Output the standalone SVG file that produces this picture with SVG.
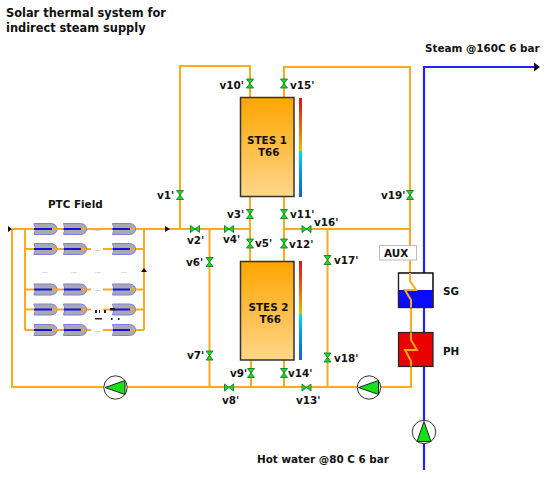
<svg xmlns="http://www.w3.org/2000/svg" xmlns:xlink="http://www.w3.org/1999/xlink" width="550" height="478" viewBox="0 0 550 478">
<style>
text{font-family:"DejaVu Sans",Verdana,sans-serif;font-weight:bold;font-size:10.4px;fill:#111}
.t{font-size:11.4px}
.o{fill:none;stroke:#ffa91f;stroke-width:2}
.b{fill:none;stroke:#2222ff;stroke-width:2.2}
.tank{stroke:#333;stroke-width:1.5}
.hx{stroke:#222;stroke-width:1.2}
.d{font-size:6px;font-weight:normal;fill:#777}
</style>
<defs>
<linearGradient id="tg" x1="0" y1="0" x2="0" y2="1"><stop offset="0" stop-color="#ffa500"/><stop offset="1" stop-color="#ffd68a"/></linearGradient>
<linearGradient id="bar" x1="0" y1="0" x2="0" y2="1"><stop offset="0" stop-color="#e01010"/><stop offset="0.3" stop-color="#e07010"/><stop offset="0.53" stop-color="#e0c000"/><stop offset="0.54" stop-color="#00e0e0"/><stop offset="0.72" stop-color="#00a0e0"/><stop offset="1" stop-color="#1060e0"/></linearGradient>
<g id="vv"><path d="M-3.500,-4.500H3.500L-3.500,4.500H3.500Z" fill="#16e016" stroke="#127a3a" stroke-width="0.9"/></g>
<g id="vh"><path d="M-4.500,-3.500V3.500L4.500,-3.500V3.500Z" fill="#16e016" stroke="#127a3a" stroke-width="0.9"/></g>
<g id="col"><path d="M34,-5.500H51Q57,-5 57,0Q57,5 51,5.500H34Q37,0 34,-5.500Z" fill="#aaaaaa" stroke="#7c7ce8" stroke-width="1"/><path d="M34,0H52" stroke="#1414e0" stroke-width="2"/></g>
<g id="rowc"><use xlink:href="#col"/><use xlink:href="#col" x="29.500"/><use xlink:href="#col" x="78.500"/></g>
<g id="pump"><circle r="11.700" fill="#fff" stroke="#333" stroke-width="1"/></g>
</defs>
<rect width="550" height="478" fill="#fff"/>
<g id="connectors">
<path class="b" d="M424,470V67H538"/>
<path d="M534,62.500L540,67L534,71.500Z" fill="#111"/>
<path class="o" d="M25,229H250M12,229V387H411V361L405,350H417L411,340V300L405,290H416L410,281V67H284V97M250,97V66H180V229M250,197V261M284,197V261M284,229H410M209.500,229V387M327.500,229V387M251,360V387M284,360V387"/>
<path class="o" d="M12,229H34M57,229H63M86,229H91M103,229H112M135,229H144M25,229V330M144,229V330M25,249H34M57,249H63M86,249H91M103,249H112M135,249H144M25,289.500H34M57,289.500H63M86,289.500H91M103,289.500H112M135,289.500H144M25,309.500H34M57,309.500H63M86,309.500H91M103,309.500H112M135,309.500H144M25,330H34M57,330H63M86,330H91M103,330H112M135,330H144M144,229H180"/>
<path d="M8,226V232L12,229Z M165,226V232L170,229Z M141,272H147L144,268Z" fill="#111"/>
</g>
<g id="ptc-field">
<use xlink:href="#rowc" y="229"/><use xlink:href="#rowc" y="249"/><use xlink:href="#rowc" y="289.500"/><use xlink:href="#rowc" y="309.500"/><use xlink:href="#rowc" y="330"/>
<path d="M52,229H57M81,229H86M130,229H135M52,249H57M81,249H86M130,249H135M52,289.500H57M81,289.500H86M130,289.500H135M52,309.500H57M81,309.500H86M130,309.500H135M52,330H57M81,330H86M130,330H135" stroke="#ffa91f" stroke-width="2"/>
<text class="d" x="42" y="273">...</text><text class="d" x="71" y="273">...</text><text class="d" x="95" y="273">...</text><text class="d" x="121" y="273">...</text>
<text class="d" x="95" y="231">...</text><text class="d" x="95" y="251">...</text><text class="d" x="95" y="291">...</text><text class="d" x="95" y="332">...</text>
<path d="M95,310h2v3h-2zM99,310h1v3h-1zM104,310h2v3h-2zM110,308h5v2.500h-5zM95,318h7v1.500h-7zM111,318h1.500v2h-1.500zM118,318h1.500v2h-1.500z" fill="#222"/>
<text x="48" y="208">PTC Field</text>
</g>
<g id="stes1">
<rect class="tank" x="240.500" y="97.500" width="53.500" height="99" fill="url(#tg)"/>
<rect x="299" y="98" width="3" height="99" fill="url(#bar)"/>
<text x="247" y="144">STES 1</text><text x="258" y="156">T66</text>
</g>
<g id="stes2">
<rect class="tank" x="240.500" y="261.500" width="53.500" height="98.500" fill="url(#tg)"/>
<rect x="299" y="261" width="3" height="99" fill="url(#bar)"/>
<text x="248.500" y="311">STES 2</text><text x="259.500" y="323">T66</text>
</g>
<g id="aux"><rect x="379.500" y="245.500" width="37" height="14.500" fill="#fff" stroke="#bbb" stroke-width="1"/><text x="384" y="257">AUX</text></g>
<g id="sg">
<rect class="hx" x="398.500" y="273" width="34.500" height="34.500" fill="#fff"/>
<rect x="398.500" y="290" width="34.500" height="17.500" fill="#0a0aff"/>
<rect class="hx" x="398.500" y="273" width="34.500" height="34.500" fill="none"/>
<path class="o" d="M410,273V281L416,290H405L411,300V307.500"/>
<text x="443" y="295">SG</text>
</g>
<g id="ph">
<rect class="hx" x="398.500" y="332.500" width="34.500" height="34" fill="#e80000"/>
<path class="o" d="M411,332.500V340L417,350H405L411,361V366.500"/>
<text x="443" y="355">PH</text>
</g>
<g id="pump1"><use xlink:href="#pump" x="115.500" y="387.500"/><path d="M105,387.500L125,380.500V394.500Z" fill="#16e016" stroke="#222"/></g>
<g id="pump2"><use xlink:href="#pump" x="369" y="387.500"/><path d="M358.500,387.500L378.500,380.500V394.500Z" fill="#16e016" stroke="#222"/></g>
<g id="pump3"><use xlink:href="#pump" x="424" y="432"/><path d="M424,421.500L431,441.500H417Z" fill="#16e016" stroke="#222"/></g>
<g id="valves">
<use xlink:href="#vv" x="250" y="83.500"/><use xlink:href="#vv" x="284" y="83.500"/><use xlink:href="#vv" x="180" y="195"/><use xlink:href="#vv" x="250" y="214"/><use xlink:href="#vv" x="284" y="214"/><use xlink:href="#vv" x="250" y="243.500"/><use xlink:href="#vv" x="284" y="243.500"/><use xlink:href="#vv" x="209.500" y="262"/><use xlink:href="#vv" x="209.500" y="355.500"/><use xlink:href="#vv" x="251" y="373"/><use xlink:href="#vv" x="284" y="373"/><use xlink:href="#vv" x="327.500" y="260"/><use xlink:href="#vv" x="327.500" y="357.500"/><use xlink:href="#vv" x="410" y="195"/>
<use xlink:href="#vh" x="195" y="229"/><use xlink:href="#vh" x="229" y="229"/><use xlink:href="#vh" x="306.500" y="229"/><use xlink:href="#vh" x="229" y="387.500"/><use xlink:href="#vh" x="306.500" y="387.500"/>
<text x="219.500" y="89">v10'</text><text x="290" y="89">v15'</text><text x="157" y="199">v1'</text><text x="227" y="218">v3'</text><text x="290" y="218">v11'</text>
<text x="187" y="244">v2'</text><text x="223" y="243">v4'</text><text x="314" y="226">v16'</text><text x="255" y="247">v5'</text><text x="289" y="248">v12'</text>
<text x="186" y="266">v6'</text><text x="187" y="359">v7'</text><text x="230" y="377">v9'</text><text x="288" y="377">v14'</text><text x="222" y="404">v8'</text><text x="296" y="404">v13'</text>
<text x="334" y="264">v17'</text><text x="334" y="362">v18'</text><text x="381" y="199">v19'</text>
</g>
<g id="labels">
<text class="t" x="6" y="17">Solar thermal system for</text><text class="t" x="6" y="32">indirect steam supply</text>
<text x="425" y="52">Steam @160C 6 bar</text>
<text x="257" y="463">Hot water @80 C 6 bar</text>
</g>
</svg>
